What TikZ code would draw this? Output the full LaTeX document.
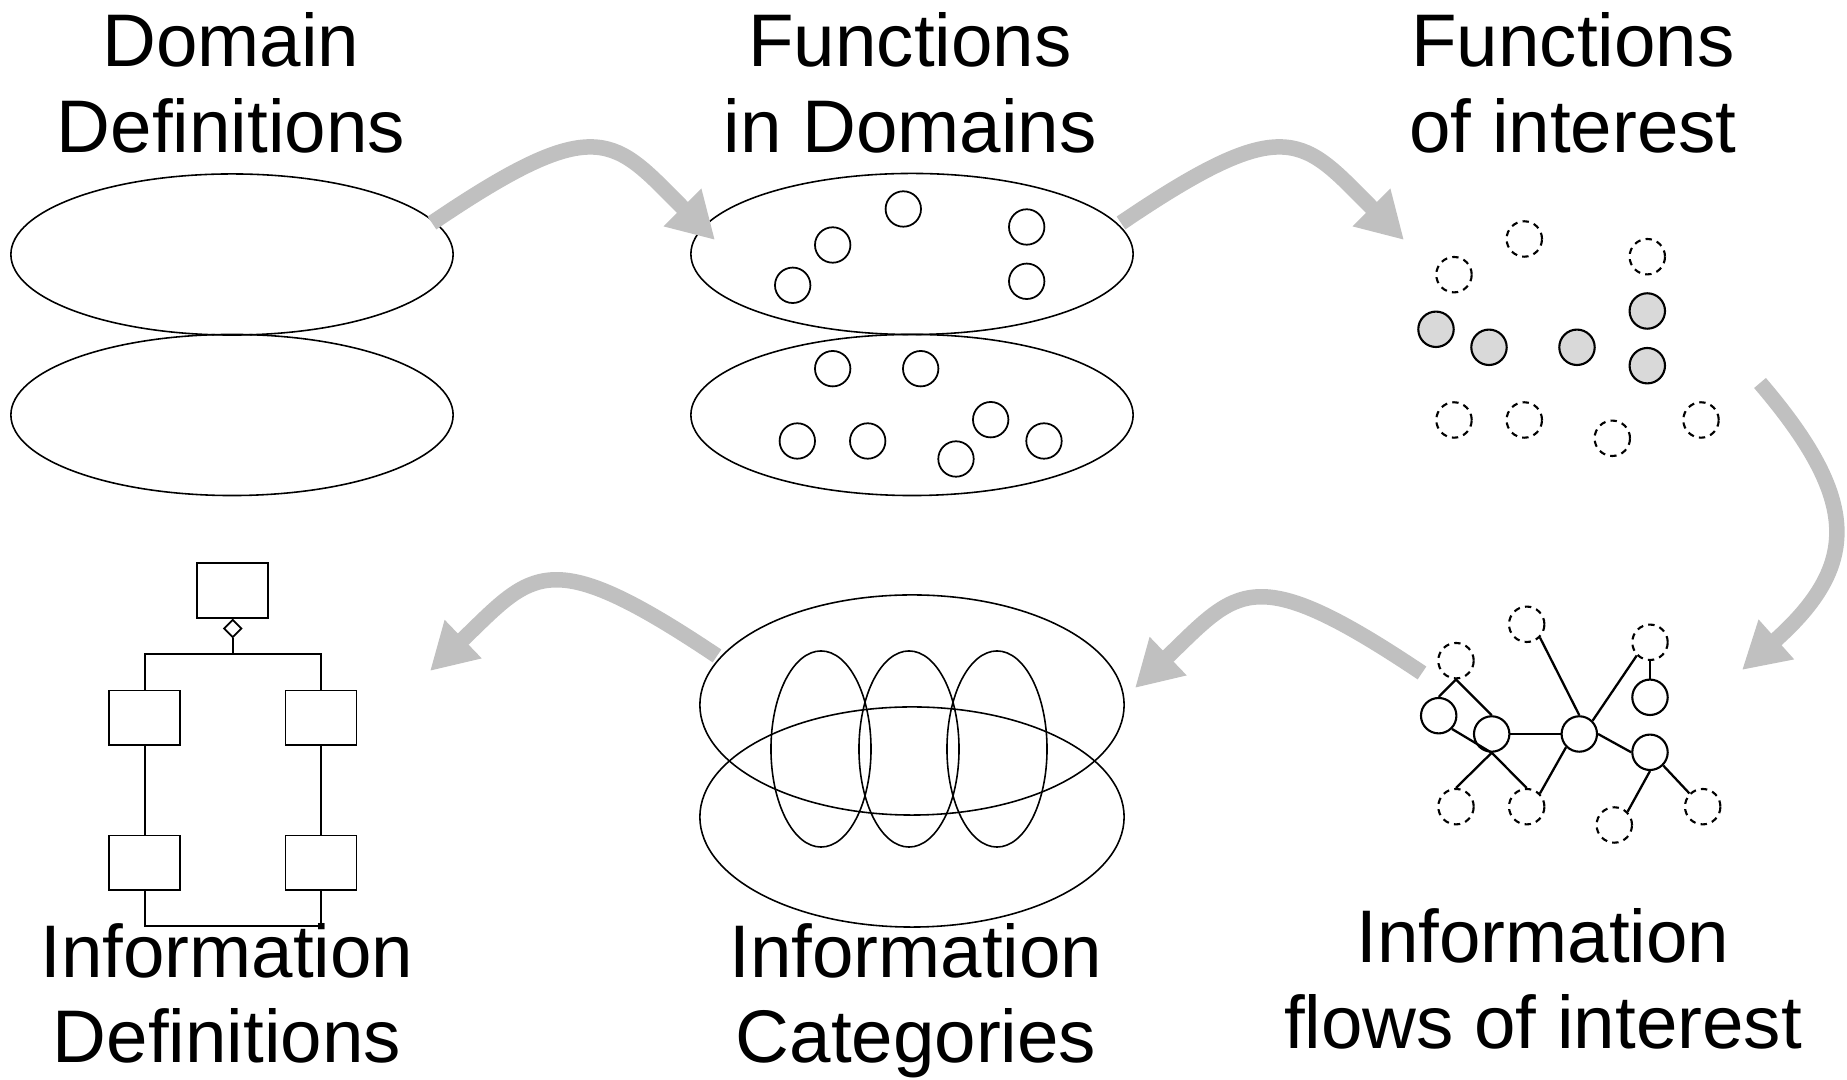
\documentclass[tikz,border=0pt]{standalone}
\usepackage{fontspec}
\setmainfont{Liberation Sans}
\usetikzlibrary{shapes.geometric,arrows.meta}
\definecolor{agray}{RGB}{192,192,192}
\definecolor{lgray}{RGB}{217,217,217}
\begin{document}
\begin{tikzpicture}[x=0.01cm,y=-0.01cm,
  lbl/.style={font=\fontsize{21.2pt}{25pt}\selectfont, anchor=base, inner sep=0pt},
  fdot/.style={circle, draw, line width=0.5pt, minimum size=3.54mm, inner sep=0pt},
  gdot/.style={fdot, line width=0.6pt, fill=lgray},
  edot/.style={fdot, line width=0.6pt, dash pattern=on 1.8pt off 1.5pt},
  ndot/.style={fdot, line width=0.6pt, fill=white},
  big/.style={ellipse, draw, line width=0.45pt, inner sep=0pt},
  flow/.style={draw=agray, line width=1.55mm, -{Triangle[length=4.6mm,width=5mm]}},
  boxn/.style={rectangle, draw, line width=0.5pt, minimum width=7.1mm, minimum height=5.45mm, inner sep=0pt},
  link/.style={line width=0.65pt},
  tline/.style={line width=0.5pt}]
\useasboundingbox (0,0) rectangle (1847,1080);

% ---------- labels ----------
\node[lbl] (t1a) at (231,67) {Domain};
\node[lbl] (t1b) at (231,153) {Definitions};
\node[lbl] (t2a) at (910,67) {Functions};
\node[lbl] (t2b) at (910,153) {in Domains};
\node[lbl] (t3a) at (1573,67) {Functions};
\node[lbl] (t3b) at (1573,153) {of interest};
\node[lbl] (t4a) at (227,978) {Information};
\node[lbl] (t4b) at (227,1063) {Definitions};
\node[lbl] (t5a) at (916,978) {Information};
\node[lbl] (t5b) at (916,1063) {Categories};
\node[lbl] (t6a) at (1543,963) {Information};
\node[lbl] (t6b) at (1543,1049) {flows of interest};

% ---------- panel 1: domains ----------
\node[big, minimum width=4.42cm, minimum height=1.61cm] (e1) at (232,254.5) {};
\node[big, minimum width=4.42cm, minimum height=1.61cm] (e2) at (232,415) {};

% ---------- panel 2: functions in domains ----------
\node[big, minimum width=4.42cm, minimum height=1.61cm] (e3) at (912,254) {};
\node[big, minimum width=4.42cm, minimum height=1.61cm] (e4) at (912,415) {};
\node[fdot] (f1) at (903.3,209) {};
\node[fdot] (f2) at (832.7,245) {};
\node[fdot] (f3) at (792.7,285.3) {};
\node[fdot] (f4) at (1026.7,227) {};
\node[fdot] (f5) at (1026.7,281.3) {};
\node[fdot] (f6) at (832.7,368.7) {};
\node[fdot] (f7) at (920.7,368.7) {};
\node[fdot] (f8) at (797.3,441) {};
\node[fdot] (f9) at (867.7,441) {};
\node[fdot] (f10) at (990.7,419.7) {};
\node[fdot] (f11) at (1044,441) {};
\node[fdot] (f12) at (956,459) {};

% ---------- panel 3: functions of interest ----------
\node[edot] (p1) at (1524.3,239) {};
\node[edot] (p2) at (1454,274.7) {};
\node[edot] (p3) at (1647.3,256.7) {};
\node[edot] (p4) at (1454,420) {};
\node[edot] (p5) at (1524.3,420) {};
\node[edot] (p6) at (1612.3,438.3) {};
\node[edot] (p7) at (1701,420) {};
\node[gdot] (g1) at (1436,329.3) {};
\node[gdot] (g2) at (1489,347.3) {};
\node[gdot] (g3) at (1577,347.3) {};
\node[gdot] (g4) at (1647.3,311) {};
\node[gdot] (g5) at (1647.3,365.7) {};

% ---------- panel 4: information flows ----------
\node[edot] (d1) at (1526.7,624.3) {};
\node[edot] (d2) at (1456,660.7) {};
\node[edot] (d3) at (1650,642.3) {};
\node[edot] (d4) at (1456,806.7) {};
\node[edot] (d5) at (1526.7,806.7) {};
\node[edot] (d6) at (1614.3,825) {};
\node[edot] (d7) at (1702.7,806.7) {};
\node[ndot] (s1) at (1438.7,715.7) {};
\node[ndot] (s2) at (1491.7,734) {};
\node[ndot] (s3) at (1579.3,734) {};
\node[ndot] (s4) at (1650,697.3) {};
\node[ndot] (s5) at (1650,752.3) {};
\draw[link] (d2.south) -- (s1.north);
\draw[link] (d2.south) -- (s2.north);
\draw[link] (s1.-45) -- (s2.south);
\draw[link] (s2.south) -- (d4.north);
\draw[link] (s2.south) -- (d5.north);
\draw[link] (s2.east) -- (s3.west);
\draw[link] (s3.-135) -- (d5.45);
\draw[link] (d1.-45) -- (s3.north);
\draw[link] (s3.45) -- (d3.-135);
\draw[link] (d3.south) -- (s4.north);
\draw[link] (s3.east) -- (s5.west);
\draw[link] (s5.south) -- (d6.45);
\draw[link] (s5.-45) -- (d7.135);

% ---------- panel 5: information categories ----------
\node[big, minimum width=4.24cm, minimum height=2.2cm] (c1) at (912,705) {};
\node[big, minimum width=4.24cm, minimum height=2.2cm] (c2) at (912,817) {};
\node[big, minimum width=1.0cm, minimum height=1.96cm] (v1) at (821,749) {};
\node[big, minimum width=1.0cm, minimum height=1.96cm] (v2) at (909,749) {};
\node[big, minimum width=1.0cm, minimum height=1.96cm] (v3) at (997,749) {};

% ---------- panel 6: information definitions ----------
\node[boxn] (top) at (232.8,590.5) {};
\node[diamond, draw, line width=0.5pt, minimum width=1.8mm, minimum height=1.8mm, inner sep=0pt, anchor=north] (dia) at (top.south) {};
\node[boxn] (l1) at (144.7,717.8) {};
\node[boxn] (r1) at (321,717.8) {};
\node[boxn] (l2) at (144.7,862.7) {};
\node[boxn] (r2) at (321,862.7) {};
\coordinate (j1) at (232.8,654.3);
\coordinate (j2) at (232.8,926);
\draw[tline] (dia.south) -- (j1);
\draw[tline] (l1.north) |- (j1) -| (r1.north);
\draw[tline] (l1.south) -- (l2.north);
\draw[tline] (r1.south) -- (r2.north);
\draw[tline] (l2.south) |- (j2) -| (r2.south);

% ---------- grey flow arrows ----------
\coordinate (a1s) at (432,223);  \coordinate (a1e) at (715,240);
\coordinate (a2s) at (1121,223); \coordinate (a2e) at (1404,240);
\coordinate (a3s) at (1760,383); \coordinate (a3e) at (1742,670);
\coordinate (a4s) at (1422,673); \coordinate (a4e) at (1135,688);
\coordinate (a5s) at (717,656);  \coordinate (a5e) at (430,671);
\draw[flow] (a1s) .. controls (600,109) and (614,139) .. (a1e);
\draw[flow] (a2s) .. controls (1289,109) and (1303,139) .. (a2e);
\draw[flow] (a3s) .. controls (1860,500) and (1860,565) .. (a3e);
\draw[flow] (a4s) .. controls (1252,559) and (1238,589) .. (a4e);
\draw[flow] (a5s) .. controls (547,542) and (533,572) .. (a5e);
\end{tikzpicture}
\end{document}
